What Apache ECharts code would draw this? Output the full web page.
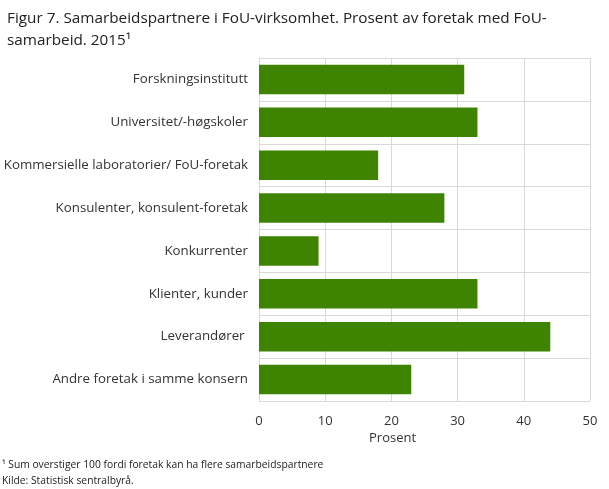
<!DOCTYPE html>
<html>
<head>
<meta charset="utf-8">
<script src="https://cdn.jsdelivr.net/npm/echarts@6/dist/echarts.min.js"></script>
<style>
html, body { margin: 0; padding: 0; background: #fff; }
#chart { width: 609px; height: 489px; }
</style>
</head>
<body>
<div id="chart"></div>
<script>
// kategorier og verdier (prosent)
var kategorier = [
	'Forskningsinstitutt',
	'Universitet/-høgskoler',
	'Kommersielle laboratorier/ FoU-foretak',
	'Konsulenter, konsulent-foretak',
	'Konkurrenter',
	'Klienter, kunder',
	'Leverandører ',
	'Andre foretak i samme konsern'
];
var prosent = [31, 33, 18, 28, 9, 33, 44, 23];
var xTicks = [0, 10, 20, 30, 40, 50];

var font = '"Open Sans", sans-serif';
var chart = echarts.init(document.getElementById('chart'));

chart.setOption({
	animation: false,
	title: {
		text: 'Figur 7. Samarbeidspartnere i FoU-virksomhet. Prosent av foretak med FoU-\nsamarbeid. 2015¹',
		left: 2,
		top: 3,
		textStyle: {
			fontFamily: font,
			fontSize: 15.3,
			fontWeight: 'normal',
			color: '#222',
			lineHeight: 22
		}
	},
	grid: {
		left: 259,
		right: 19,
		top: 58,
		bottom: 88,
		containLabel: false
	},
	xAxis: {
		type: 'value',
		min: xTicks[0],
		max: xTicks[xTicks.length - 1],
		interval: 10,
		axisLine: { show: false },
		axisTick: { show: false },
		axisLabel: {
			fontFamily: font,
			fontSize: 13,
			color: '#333',
			margin: 14
		},
		splitLine: { lineStyle: { color: '#d9d9d9', width: 1 } }
	},
	yAxis: {
		type: 'category',
		inverse: true,
		data: kategorier,
		axisLine: { show: true, lineStyle: { color: '#d9d9d9' } },
		axisTick: { show: false },
		axisLabel: {
			fontFamily: font,
			fontSize: 13.3,
			color: '#333',
			margin: 11
		},
		splitLine: { show: true, lineStyle: { color: '#d9d9d9', width: 1 } }
	},
	graphic: [
		{
			type: 'text',
			left: 369,
			top: 432,
			style: { text: 'Prosent', font: '13px ' + font, fill: '#333' }
		},
		{
			type: 'text',
			left: 2,
			top: 457,
			style: {
				text: '¹ Sum overstiger 100 fordi foretak kan ha flere samarbeidspartnere\nKilde: Statistisk sentralbyrå.',
				font: '10.3px ' + font,
				fill: '#222',
				lineHeight: 16
			}
		}
	],
	series: [{
		name: 'Prosent',
		type: 'bar',
		data: prosent,
		barCategoryGap: '31%',
		itemStyle: { color: '#3f8400' }
	}]
});
</script>
</body>
</html>
